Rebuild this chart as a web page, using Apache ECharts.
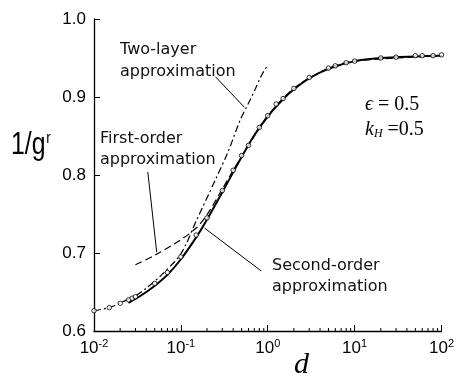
<!DOCTYPE html>
<html>
<head>
<meta charset="utf-8">
<script src="https://cdn.jsdelivr.net/npm/echarts@6/dist/echarts.min.js"></script>
<style>
  html, body { margin: 0; padding: 0; background: #fff; }
  #chart { width: 457px; height: 384px; }
</style>
</head>
<body>
<div id="chart"></div>
<script>
// Exact (numerical) solution, drawn as open circles
const exactD = [0.01, 0.015, 0.02, 0.025, 0.0275, 0.03, 0.05, 0.07, 0.1, 0.15, 0.2, 0.3, 0.4, 0.5, 0.6, 0.8, 1, 1.25, 1.5, 2, 3, 5, 6, 8, 10, 20, 30, 50, 60, 80, 100];
const exactY = [0.626, 0.630, 0.6355, 0.640, 0.642, 0.644, 0.661, 0.675, 0.695, 0.723, 0.745, 0.780, 0.806, 0.825, 0.838, 0.861, 0.876, 0.891, 0.898, 0.911, 0.925, 0.937, 0.940, 0.944, 0.946, 0.950, 0.951, 0.953, 0.953, 0.953, 0.954];

// Second-order approximation (solid)
const secondD = [0.025, 0.03, 0.04, 0.05, 0.07, 0.1, 0.15, 0.2, 0.3, 0.5, 0.7, 1, 1.5, 2, 3, 5, 10, 20, 50, 100];
const secondY = [0.636, 0.641, 0.650, 0.658, 0.672, 0.692, 0.720, 0.743, 0.778, 0.823, 0.851, 0.875, 0.897, 0.910, 0.924, 0.936, 0.946, 0.950, 0.952, 0.953];

// First-order approximation (dashed)
const firstD = [0.03, 0.05, 0.1, 0.15, 0.2, 0.3, 0.4, 0.6, 1, 2, 5, 10, 100];
const firstY = [0.685, 0.697, 0.717, 0.732, 0.749, 0.782, 0.806, 0.838, 0.876, 0.911, 0.937, 0.946, 0.953];

// Two-layer approximation (dash-dot)
const twoD = [0.01, 0.015, 0.02, 0.03, 0.04, 0.06, 0.1, 0.15, 0.25, 0.35, 0.48, 0.6, 0.71, 0.85, 1.0];
const twoY = [0.626, 0.630, 0.636, 0.645, 0.655, 0.672, 0.699, 0.741, 0.794, 0.830, 0.870, 0.892, 0.909, 0.928, 0.941];

// Axis ranges and tick settings
const xMin = 0.01, xMax = 100;
const yMin = 0.6, yMax = 1.0, yStep = 0.1;
const minorMultipliers = [2, 3, 4, 5, 6, 7, 8, 9];
const decades = [0.01, 0.1, 1, 10];

// Leader lines from the labels to their curves, in data coordinates
const leaderTwo = [[0.25, 0.926], [0.537, 0.887]];
const leaderFirst = [[0.0416, 0.804], [0.0527, 0.701]];
const leaderSecond = [[0.187, 0.732], [0.841, 0.677]];

const zip = (a, b) => a.map((v, i) => [v, b[i]]);

const minorTicks = [];
decades.forEach(d => minorMultipliers.forEach(m => minorTicks.push([d * m, yMin])));

const chart = echarts.init(document.getElementById('chart'), null, { renderer: 'canvas' });

const leader = (pts) => [[{ coord: pts[0] }, { coord: pts[1] }]];

const option = {
  animation: false,
  backgroundColor: '#fff',
  grid: { left: 94, right: 13, top: 19, bottom: 53, containLabel: false },
  xAxis: {
    type: 'log',
    logBase: 10,
    min: xMin,
    max: xMax,
    axisLine: { show: true, onZero: false, lineStyle: { color: '#000', width: 1.3 } },
    axisTick: { show: true, inside: true, length: 6, lineStyle: { color: '#000', width: 1 } },
    minorTick: { show: false },
    splitLine: { show: false },
    axisLabel: {
      margin: 7,
      color: '#000',
      formatter: (v) => '{b|10}{s|' + Math.round(Math.log10(v)) + '}',
      rich: {
        b: { fontFamily: 'Liberation Sans', fontSize: 17, color: '#000' },
        s: { fontFamily: 'Liberation Sans', fontSize: 11, color: '#000', padding: [0, 0, 9, 0] }
      }
    }
  },
  yAxis: {
    type: 'value',
    min: yMin,
    max: yMax,
    interval: yStep,
    axisLine: { show: true, onZero: false, lineStyle: { color: '#000', width: 1.3 } },
    axisTick: { show: true, inside: true, length: 6, lineStyle: { color: '#000', width: 1 } },
    splitLine: { show: false },
    axisLabel: {
      margin: 8,
      color: '#000',
      fontFamily: 'Liberation Sans',
      fontSize: 17,
      formatter: (v) => v.toFixed(1)
    }
  },
  series: [
    {
      name: 'Two-layer approximation',
      type: 'line',
      data: zip(twoD, twoY),
      smooth: 0.3,
      showSymbol: false,
      lineStyle: { color: '#000', width: 1.2, type: [7, 3, 2, 3] },
      markLine: {
        silent: true,
        symbol: 'none',
        label: { show: false },
        lineStyle: { color: '#000', width: 1, type: 'solid' },
        data: leader(leaderTwo)
      }
    },
    {
      name: 'First-order approximation',
      type: 'line',
      data: zip(firstD, firstY),
      smooth: 0.3,
      showSymbol: false,
      lineStyle: { color: '#000', width: 1.2, type: [7, 4] },
      markLine: {
        silent: true,
        symbol: 'none',
        label: { show: false },
        lineStyle: { color: '#000', width: 1, type: 'solid' },
        data: leader(leaderFirst)
      }
    },
    {
      name: 'Second-order approximation',
      type: 'line',
      data: zip(secondD, secondY),
      smooth: 0.3,
      showSymbol: false,
      lineStyle: { color: '#000', width: 2 },
      markLine: {
        silent: true,
        symbol: 'none',
        label: { show: false },
        lineStyle: { color: '#000', width: 1, type: 'solid' },
        data: leader(leaderSecond)
      }
    },
    {
      name: 'Exact',
      type: 'scatter',
      data: zip(exactD, exactY),
      symbol: 'circle',
      symbolSize: 4.5,
      itemStyle: { color: '#fff', borderColor: '#000', borderWidth: 1 },
      z: 5
    },
    {
      // minor log ticks along the bottom axis
      name: 'minorTicks',
      type: 'custom',
      data: minorTicks,
      silent: true,
      renderItem: (params, api) => {
        const p = api.coord([api.value(0), api.value(1)]);
        return {
          type: 'line',
          shape: { x1: p[0], y1: p[1], x2: p[0], y2: p[1] - 3 },
          style: { stroke: '#000', lineWidth: 1 }
        };
      },
      z: 6
    }
  ],
  graphic: [
    {
      type: 'text', left: 11, top: 130, scaleX: 0.8,
      style: {
        text: '{m|1/g}{s|r}',
        rich: {
          m: { fontFamily: 'Liberation Sans', fontSize: 31, fill: '#000' },
          s: { fontFamily: 'Liberation Sans', fontSize: 17, fill: '#000', padding: [0, 0, 14, 1] }
        }
      }
    },
    {
      type: 'text', left: 120, top: 39,
      style: { text: 'Two-layer\napproximation', fontFamily: 'DejaVu Sans', fontSize: 16, lineHeight: 22, fill: '#111' }
    },
    {
      type: 'text', left: 100, top: 128,
      style: { text: 'First-order\napproximation', fontFamily: 'DejaVu Sans', fontSize: 16, lineHeight: 21, fill: '#111' }
    },
    {
      type: 'text', left: 272, top: 255,
      style: { text: 'Second-order\napproximation', fontFamily: 'DejaVu Sans', fontSize: 16, lineHeight: 21, fill: '#111' }
    },
    {
      type: 'text', left: 365, top: 95,
      style: {
        text: '{i|ϵ} = 0.5',
        fontFamily: 'Liberation Serif', fontSize: 20, fill: '#000',
        rich: { i: { fontFamily: 'Liberation Serif', fontStyle: 'italic', fontSize: 20, fill: '#000' } }
      }
    },
    {
      type: 'text', left: 365, top: 120,
      style: {
        text: '{i|k}{sub|H} =0.5',
        fontFamily: 'Liberation Serif', fontSize: 20, fill: '#000',
        rich: {
          i: { fontFamily: 'Liberation Serif', fontStyle: 'italic', fontSize: 20, fill: '#000' },
          sub: { fontFamily: 'Liberation Serif', fontStyle: 'italic', fontSize: 12, fill: '#000', padding: [8, 0, 0, 0] }
        }
      }
    },
    {
      type: 'text', left: 294, top: 350,
      style: { text: 'd', fontFamily: 'Liberation Serif', fontStyle: 'italic', fontSize: 30, fill: '#000' }
    }
  ]
};

chart.setOption(option);
</script>
</body>
</html>
